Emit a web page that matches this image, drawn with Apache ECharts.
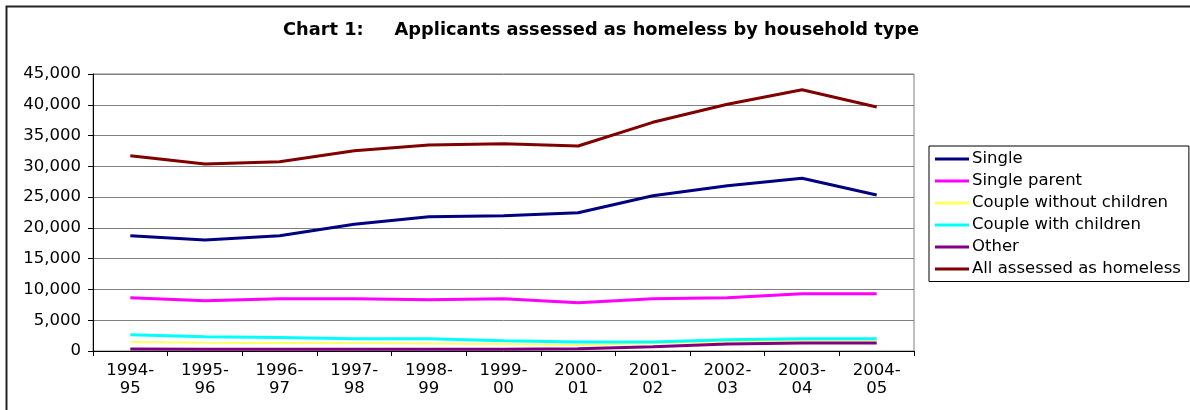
<!DOCTYPE html>
<html>
<head>
<meta charset="utf-8">
<script src="https://cdn.jsdelivr.net/npm/echarts@6/dist/echarts.min.js"></script>
<style>
  html, body { margin: 0; padding: 0; background: #fff; }
  #chart { width: 1190px; height: 410px; }
</style>
</head>
<body>
<div id="chart"></div>
<script>
// Financial years
const years = ['1994-\n95', '1995-\n96', '1996-\n97', '1997-\n98', '1998-\n99', '1999-\n00',
               '2000-\n01', '2001-\n02', '2002-\n03', '2003-\n04', '2004-\n05'];

// Applicants assessed as homeless, by household type
const single          = [18730, 18030, 18730, 20580, 21820, 21980, 22470, 25230, 26860, 28060, 25340];
const singleParent    = [8660, 8170, 8500, 8500, 8340, 8500, 7850, 8500, 8660, 9310, 9310];
const coupleNoKids    = [1460, 1350, 1300, 1300, 1220, 1140, 980, 1250, 1550, 1750, 1750];
const coupleWithKids  = [2650, 2320, 2190, 2000, 2000, 1670, 1460, 1460, 1840, 2000, 2000];
const other           = [330, 300, 300, 300, 300, 300, 370, 700, 1140, 1300, 1300];
const allHomeless     = [31730, 30380, 30750, 32540, 33470, 33680, 33300, 37150, 40080, 42450, 39640];

// Value axis ticks
const yTicks = [0, 5000, 10000, 15000, 20000, 25000, 30000, 35000, 40000, 45000];

const seriesDefs = [
  { name: 'Single', data: single, color: '#000080', width: 3 },
  { name: 'Single parent', data: singleParent, color: '#FF00FF', width: 3 },
  { name: 'Couple without children', data: coupleNoKids, color: '#FFFF66', width: 2 },
  { name: 'Couple with children', data: coupleWithKids, color: '#00FFFF', width: 3 },
  { name: 'Other', data: other, color: '#800080', width: 3 },
  { name: 'All assessed as homeless', data: allHomeless, color: '#800000', width: 3 }
];

const chart = echarts.init(document.getElementById('chart'), null, { renderer: 'canvas' });
const font = 'DejaVu Sans, Verdana, sans-serif';
const textSize = 16.5;

chart.setOption({
  animation: false,
  textStyle: { fontFamily: font },
  title: {
    text: 'Chart 1:     Applicants assessed as homeless by household type',
    left: 283,
    top: 21,
    padding: 0,
    textStyle: { fontFamily: font, fontSize: 17.8, fontWeight: 'bold', color: '#000' }
  },
  graphic: [{
    type: 'rect',
    shape: { x: 6.5, y: 6.5, width: 1200, height: 420 },
    style: { fill: 'none', stroke: '#222', lineWidth: 2 },
    silent: true
  }],
  legend: {
    orient: 'vertical',
    left: 929,
    top: 146,
    padding: [4.5, 8, 4, 6],
    itemGap: 5,
    itemWidth: 34,
    itemHeight: 3,
    icon: 'rect',
    borderColor: '#000',
    borderWidth: 1,
    textStyle: { fontFamily: font, fontSize: textSize, color: '#000', padding: [0, 0, 0, -2] },
    data: seriesDefs.map(s => s.name)
  },
  grid: {
    left: 93, right: 276, top: 74, bottom: 59,
    show: true, borderColor: '#808080', borderWidth: 1, backgroundColor: '#fff'
  },
  xAxis: {
    type: 'category',
    data: years,
    boundaryGap: true,
    axisLine: { lineStyle: { color: '#000', width: 1 } },
    axisTick: { show: true, interval: 0, length: 5, lineStyle: { color: '#000' } },
    axisLabel: { interval: 0, margin: 11, fontSize: textSize, color: '#000', lineHeight: 18, fontFamily: font }
  },
  yAxis: {
    type: 'value',
    min: yTicks[0],
    max: yTicks[yTicks.length - 1],
    interval: yTicks[1] - yTicks[0],
    axisLine: { show: true, lineStyle: { color: '#000', width: 1 } },
    axisTick: { show: true, length: 5, lineStyle: { color: '#000' } },
    splitLine: { lineStyle: { color: '#808080', width: 1 } },
    axisLabel: {
      margin: 12, fontSize: textSize, color: '#000', fontFamily: font,
      formatter: v => v.toLocaleString('en-US')
    }
  },
  series: seriesDefs.map(s => ({
    name: s.name,
    type: 'line',
    data: s.data,
    showSymbol: false,
    symbol: 'none',
    color: s.color,
    lineStyle: { color: s.color, width: s.width },
    itemStyle: { color: s.color }
  }))
});
</script>
</body>
</html>
